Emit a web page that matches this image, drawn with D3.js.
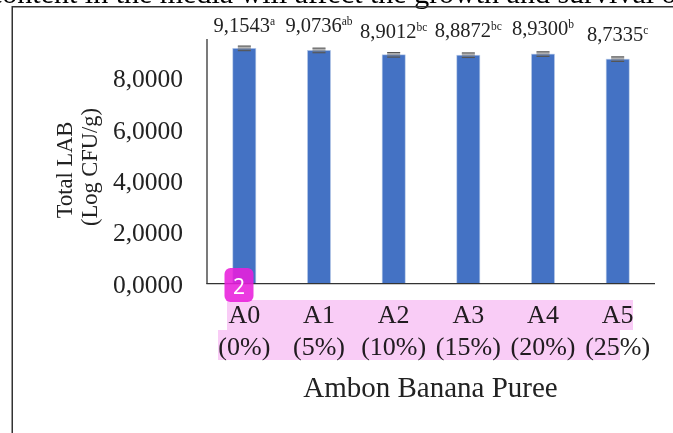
<!DOCTYPE html>
<html><head><meta charset="utf-8">
<script src="https://cdn.jsdelivr.net/npm/d3@7"></script>
<style>
html,body{margin:0;padding:0;background:#fff;overflow:hidden}
svg{display:block}
text{font-family:"Liberation Serif",serif;fill:#222}
#art{filter:blur(0.4px)}
</style></head><body>
<svg id="c" width="673" height="433"><g id="art"></g></svg>
<script>
const categories=["A0","A1","A2","A3","A4","A5"];
const percents=["(0%)","(5%)","(10%)","(15%)","(20%)","(25%)"];
const values=[9.1543,9.0736,8.9012,8.8872,8.93,8.7335];
const errors=[0.09,0.09,0.09,0.09,0.09,0.09];
const valueLabels=["9,1543","9,0736","8,9012","8,8872","8,9300","8,7335"];
const letters=["a","ab","bc","bc","b","c"];
const labelY=[32,32,37.5,37,35,40.5];
const yTicks=[0,2,4,6,8];
const tickLabels=["0,0000","2,0000","4,0000","6,0000","8,0000"];

const svg=d3.select("#c");
const art=d3.select("#art");
const x=d3.scaleBand().domain(categories).range([207,655]).paddingInner(0).paddingOuter(0);
const y=d3.scaleLinear().domain([0,8]).range([283.5,78]);
const barW=23;

// surrounding document fragment
art.append("text").attr("x",-11).attr("y",3).attr("font-size",30).style("fill","#000")
  .text("content in the media will affect the growth and survival of");
art.append("rect").attr("x",12).attr("y",6).attr("width",661).attr("height",1.5).attr("fill","#333");
art.append("rect").attr("x",11.5).attr("y",6).attr("width",1.5).attr("height",427).attr("fill","#333");

// bars
art.selectAll("rect.bar").data(values).join("rect").attr("class","bar")
  .attr("x",(d,i)=>x(categories[i])+x.bandwidth()/2-barW/2)
  .attr("y",d=>y(d)).attr("width",barW).attr("height",d=>y(0)-y(d))
  .attr("fill","#4472c4").attr("stroke","#b9cbe8").attr("stroke-width",0.6);

// error bars
const eb=art.selectAll("g.eb").data(values).join("g").attr("class","eb")
  .attr("transform",(d,i)=>`translate(${x(categories[i])+x.bandwidth()/2},0)`);
eb.append("rect").attr("x",-6.5).attr("width",13).attr("y",(d,i)=>y(d+errors[i])).attr("height",(d,i)=>y(d-errors[i])-y(d+errors[i])).attr("fill","#777").attr("fill-opacity",0.55);
[1,-1].forEach(s=>eb.append("line").attr("x1",-6.5).attr("x2",6.5)
  .attr("y1",(d,i)=>y(d+s*errors[i])).attr("y2",(d,i)=>y(d+s*errors[i])).attr("stroke","#555").attr("stroke-width",1.1));

// axes
const yAxis=d3.axisLeft(y).tickValues(yTicks).tickSize(0).tickPadding(0).tickFormat((d,i)=>tickLabels[i]);
const gy=art.append("g").attr("transform","translate(183,0)").call(yAxis);
gy.select(".domain").remove();
gy.selectAll("text").attr("font-size",25.5).attr("font-family",null).attr("dy","0.34em");
art.append("line").attr("x1",207).attr("x2",207).attr("y1",39).attr("y2",284).attr("stroke","#333").attr("stroke-width",1.3);
art.append("line").attr("x1",206.4).attr("x2",655).attr("y1",283.7).attr("y2",283.7).attr("stroke","#333").attr("stroke-width",1.3);

// value labels
const vl=art.selectAll("text.vl").data(valueLabels).join("text").attr("class","vl")
  .attr("x",(d,i)=>x(categories[i])+x.bandwidth()/2).attr("y",(d,i)=>labelY[i])
  .attr("text-anchor","middle").attr("font-size",20.5);
vl.append("tspan").text(d=>d);
vl.append("tspan").attr("font-size",11.5).attr("dy",-7).text((d,i)=>letters[i]);

// category labels
art.selectAll("text.cat").data(categories).join("text").attr("class","cat")
  .attr("x",d=>x(d)+x.bandwidth()/2).attr("y",323).attr("text-anchor","middle").attr("font-size",26).text(d=>d);
art.selectAll("text.pct").data(percents).join("text").attr("class","pct")
  .attr("x",(d,i)=>x(categories[i])+x.bandwidth()/2).attr("y",355).attr("text-anchor","middle").attr("font-size",26).text(d=>d);

// titles
art.append("text").attr("x",430.5).attr("y",397).attr("text-anchor","middle").attr("font-size",29).text("Ambon Banana Puree");
art.append("text").attr("transform","translate(72,170) rotate(-90)").attr("text-anchor","middle").attr("font-size",22.5).text("Total LAB");
art.append("text").attr("transform","translate(97,167) rotate(-90)").attr("text-anchor","middle").attr("font-size",22.5).text("(Log CFU/g)");

// highlights over the text, as a marker would lie
const hl=svg.append("g").style("mix-blend-mode","multiply");
hl.append("rect").attr("x",227).attr("y",300).attr("width",406).attr("height",30).attr("fill","#f9ccf6");
hl.append("rect").attr("x",218).attr("y",330).attr("width",402).attr("height",30).attr("fill","#f9ccf6");

// badge
svg.append("rect").attr("x",224.5).attr("y",268).attr("width",29).attr("height",34).attr("rx",6).attr("fill","#e81fdc").attr("fill-opacity",0.88);
svg.append("text").attr("x",239).attr("y",293.5).attr("text-anchor","middle").attr("font-size",21).style("font-family","'Noto Sans',sans-serif").style("fill","#fff").text("2");
</script></body></html>
